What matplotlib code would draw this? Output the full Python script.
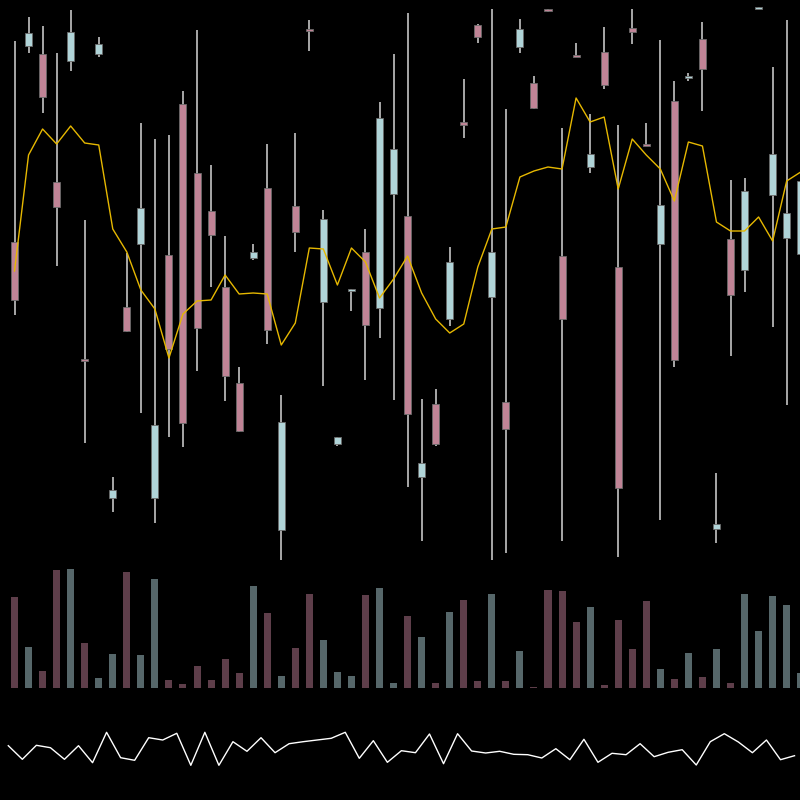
import numpy as np
import matplotlib
matplotlib.use("Agg")
import matplotlib.pyplot as plt

# candle data (price units)
opens = [55.8, 75.4, 74.6, 61.8, 73.9, 44.0, 74.6, 30.2, 49.3, 55.6,
         30.2, 54.5, 69.6, 62.7, 58.9, 51.3, 41.7, 54.2, 61.2, 27.0,
         59.4, 77.1, 49.8, 35.6, 50.9, 54.8, 49.2, 60.6, 58.4, 32.3,
         39.6, 48.1, 67.8, 77.5, 50.3, 39.8, 75.3, 71.7, 79.0, 54.4,
         74.5, 63.3, 74.8, 53.3, 77.2, 65.6, 55.6, 69.9, 72.2, 76.1,
         27.1, 56.1, 53.0, 79.1, 60.5, 56.2, 54.6]
closes = [50.0, 76.7, 70.3, 59.3, 76.8, 43.9, 75.6, 31.0, 46.9, 59.2,
          37.5, 45.1, 37.7, 47.2, 56.5, 42.4, 36.9, 54.8, 47.0, 37.8,
          56.8, 76.9, 58.1, 36.3, 51.0, 47.5, 68.2, 65.1, 38.6, 33.7,
          35.6, 53.8, 67.5, 76.3, 54.8, 37.1, 77.1, 69.2, 78.9, 48.1,
          74.3, 64.6, 71.5, 31.2, 76.8, 65.4, 59.5, 44.0, 72.4, 73.1,
          27.6, 50.5, 60.9, 79.3, 64.6, 58.7, 61.9]
highs = [75.9, 78.3, 77.4, 74.7, 79.0, 58.0, 76.3, 32.3, 54.7, 67.7,
         66.1, 66.5, 70.9, 77.0, 63.5, 56.4, 43.3, 55.6, 65.6, 40.5,
         66.7, 78.0, 59.0, 36.3, 51.1, 57.1, 69.8, 74.6, 78.7, 40.1,
         41.1, 55.3, 72.1, 77.6, 79.1, 69.1, 78.1, 72.4, 79.1, 67.2,
         75.7, 68.6, 77.3, 67.5, 79.1, 67.7, 76.0, 71.9, 72.7, 77.8,
         32.7, 62.0, 62.2, 79.3, 73.3, 78.0, 61.9]
lows = [48.5, 74.7, 68.7, 53.4, 72.9, 35.7, 74.3, 28.8, 46.8, 38.7,
        27.7, 36.3, 35.3, 42.9, 51.3, 39.9, 36.8, 54.0, 45.6, 23.7,
        54.8, 74.9, 41.4, 35.4, 48.9, 42.0, 46.2, 40.0, 31.3, 25.9,
        35.4, 47.4, 66.2, 75.7, 24.0, 24.7, 74.7, 69.1, 78.8, 25.9,
        74.3, 62.7, 71.1, 24.3, 75.6, 65.4, 28.0, 43.3, 71.9, 68.9,
        25.7, 44.4, 50.8, 79.1, 47.3, 39.5, 54.6]
ma_line = [52.9, 64.5, 67.1, 65.6, 67.4, 65.7, 65.5, 57.1, 54.8, 51.0,
           49.1, 44.2, 48.6, 49.9, 50.0, 52.5, 50.6, 50.7, 50.6, 45.5,
           47.7, 55.2, 55.1, 51.5, 55.2, 53.8, 50.2, 52.1, 54.4, 50.7,
           48.1, 46.7, 47.6, 53.3, 57.1, 57.3, 62.3, 62.9, 63.3, 63.1,
           70.2, 67.8, 68.3, 61.1, 66.1, 64.5, 63.1, 59.9, 65.8, 65.4,
           57.8, 56.9, 56.9, 58.3, 55.9, 61.9, 62.8]
volumes = [91, 41, 17, 118, 119, 45, 10, 34, 116, 33,
           109, 8, 4, 22, 8, 29, 15, 102, 75, 12,
           40, 94, 48, 16, 12, 93, 100, 5, 72, 51,
           5, 76, 88, 7, 94, 7, 37, 1, 98, 97,
           66, 81, 3, 68, 39, 87, 19, 9, 35, 11,
           39, 5, 94, 57, 92, 83, 15]
osc = [5.43, 4.07, 5.47, 5.23, 4.07, 5.43, 3.73, 6.77, 4.23, 3.97,
       6.23, 6.00, 6.67, 3.47, 6.77, 3.47, 5.83, 4.87, 6.23, 4.73,
       5.63, 5.83, 6.00, 6.17, 6.77, 4.17, 5.93, 3.77, 4.93, 4.73,
       6.60, 3.63, 6.63, 4.90, 4.70, 4.87, 4.57, 4.53, 4.20, 5.13,
       4.03, 6.07, 3.77, 4.67, 4.53, 5.63, 4.33, 4.77, 5.03, 3.50,
       5.83, 6.63, 5.80, 4.73, 6.00, 4.03, 4.43]

up_col = "#b0d4d8"
down_col = "#c08496"
vol_up = "#56676a"
vol_down = "#5e3e4a"

n = len(opens)
x = np.arange(n)

fig = plt.figure(figsize=(8, 8), dpi=100, facecolor="black")
ax = fig.add_axes([0, 0.3, 1, 0.7])
axv = fig.add_axes([0, 0.14, 1, 0.16])
axo = fig.add_axes([0, 0.0, 1, 0.125])
for a in (ax, axv, axo):
    a.set_facecolor("black")
    a.axis("off")

for i in range(n):
    o, c, h, l = opens[i], closes[i], highs[i], lows[i]
    col = up_col if c >= o else down_col
    ax.vlines(x[i], l, h, color="#a8a8a8", lw=1.4, zorder=1)
    bot = min(o, c)
    hgt = max(abs(c - o), 0.2)
    ax.bar(x[i], hgt, bottom=bot, width=0.5, color=col,
           edgecolor="#6a6a6a", linewidth=0.6, zorder=2)

ax.plot(x, ma_line, color="#e6b800", lw=1.0, zorder=3)
ax.set_xlim(-1.033, 55.95)
ax.set_ylim(24, 80)

vcols = [vol_up if closes[i] >= opens[i] else vol_down for i in range(n)]
axv.bar(x, volumes, width=0.5, color=vcols)
axv.set_xlim(-1.033, 55.95)
axv.set_ylim(0, 128)

axo.plot(x, osc, color="white", lw=1.0)
axo.set_xlim(-0.591, 56.39)
axo.set_ylim(0, 10)

fig.savefig("out.png", facecolor="black")
